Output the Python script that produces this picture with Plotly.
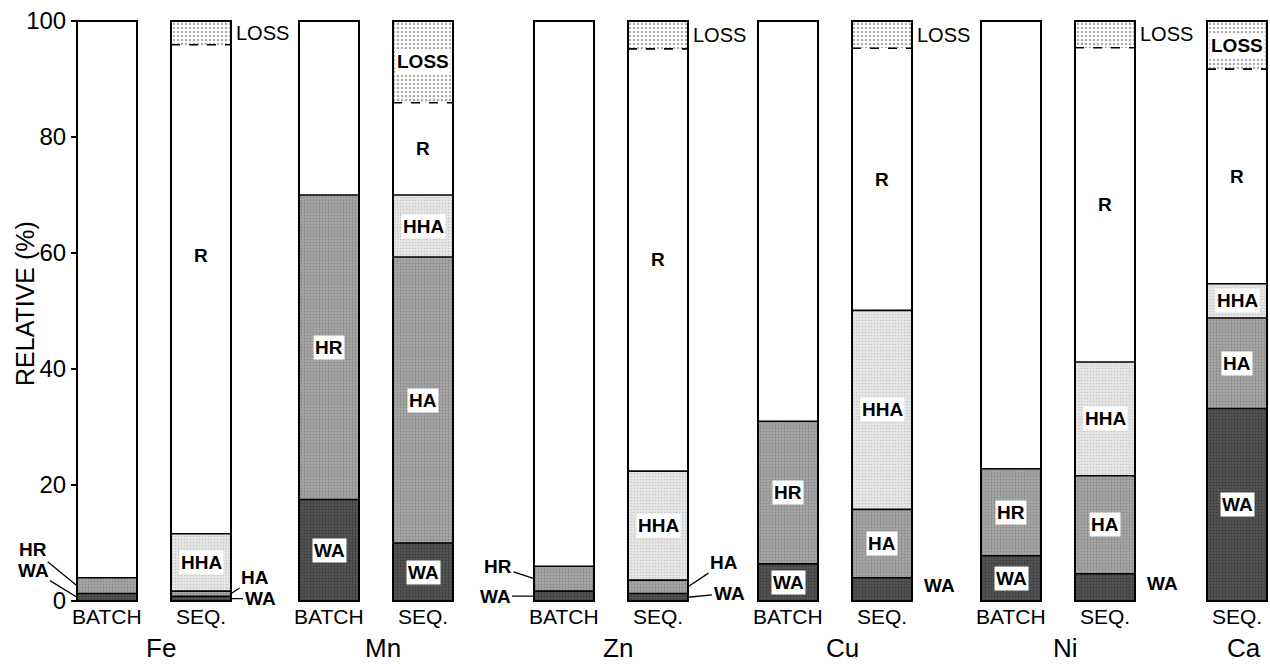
import plotly.graph_objects as go

# ---------------- data ----------------
elements = ["Fe", "Mn", "Zn", "Cu", "Ni", "Ca"]
bar_element = ["Fe", "Fe", "Mn", "Mn", "Zn", "Zn", "Cu", "Cu", "Ni", "Ni", "Ca"]
bar_method = ["BATCH", "SEQ.", "BATCH", "SEQ.", "BATCH", "SEQ.",
              "BATCH", "SEQ.", "BATCH", "SEQ.", "SEQ."]

wa = [1.3, 0.8, 17.5, 10.0, 1.7, 1.3, 6.4, 4.0, 7.8, 4.7, 33.2]
hr = [2.7, None, 52.5, None, 4.3, None, 24.6, None, 15.0, None, None]
ha = [None, 0.9, None, 49.3, None, 2.3, None, 11.8, None, 16.9, 15.6]
hha = [None, 9.9, None, 10.7, None, 18.8, None, 34.3, None, 19.6, 5.9]
r = [96.0, 84.3, 30.0, 15.9, 94.0, 72.8, 69.0, 45.2, 77.2, 54.2, 37.0]
loss = [None, 4.1, None, 14.1, None, 4.8, None, 4.7, None, 4.6, 8.3]

layer_names = ["WA", "HR", "HA", "HHA", "R", "LOSS"]
layer_values = [wa, hr, ha, hha, r, loss]

y_tick_vals = [0, 20, 40, 60, 80, 100]
y_tick_text = ["0", "20", "40", "60", "80", "100"]
y_title = "RELATIVE (%)"

# ---------------- layout constants ----------------
W, H = 1270, 666
MT, MB = 10, 60
PLOT_BOTTOM_PX = H - MB
PLOT_H = H - MT - MB
Y_RANGE = [-0.862, 101.897]
GROUP_X0 = {"Fe": 107, "Mn": 329, "Zn": 564, "Cu": 788, "Ni": 1011, "Ca": 1237}
PAIR_DX = 94
BAR_W = 60
FONT = "Liberation Sans"


def paper_y(px):
    return (PLOT_BOTTOM_PX - px) / PLOT_H


bar_x = []
_seen = {}
for el in bar_element:
    k = _seen.get(el, 0)
    bar_x.append(GROUP_X0[el] + k * PAIR_DX)
    _seen[el] = k + 1

STYLE = {
    "WA": dict(bg="#545454", fg="#222222", size=3, solidity=0.35),
    "HR": dict(bg="#a6a6a6", fg="#6a6a6a", size=3, solidity=0.3),
    "HA": dict(bg="#a6a6a6", fg="#6a6a6a", size=3, solidity=0.3),
    "HHA": dict(bg="#e6e6e6", fg="#a8a8a8", size=3, solidity=0.25),
    "R": dict(bg="#ffffff", fg="#ffffff", size=3, solidity=0.0),
    "LOSS": dict(bg="#ffffff", fg="#555555", size=4, solidity=0.3),
}

fig = go.Figure()
for name, vals in zip(layer_names, layer_values):
    st = STYLE[name]
    marker = dict(color=st["bg"], line=dict(width=0))
    if st["solidity"] > 0:
        marker["pattern"] = dict(shape=".", fgcolor=st["fg"], bgcolor=st["bg"],
                                 size=st["size"], solidity=st["solidity"])
    fig.add_trace(go.Bar(
        x=bar_x, y=[v if v else 0 for v in vals], width=BAR_W,
        name=name, marker=marker, showlegend=False, hoverinfo="skip"))

# ---------------- outlines and segment boundaries ----------------
shapes = []
annotations = []

# outside label offsets (pixels), keyed by (element, method, layer)
LEADER = {
    ("Fe", "BATCH", "HR"): (-44, -36), ("Fe", "BATCH", "WA"): (-44, -27),
    ("Zn", "BATCH", "HR"): (-36, -12), ("Zn", "BATCH", "WA"): (-39, 0),
    ("Fe", "SEQ.", "HA"): (24, -16), ("Fe", "SEQ.", "WA"): (29, 0),
    ("Zn", "SEQ.", "HA"): (36, -24), ("Zn", "SEQ.", "WA"): (41, -4),
}
# label vertical nudges (fraction of segment) where the reference is off-centre
LABEL_Y_FRAC = {("Fe", "SEQ.", "R"): 0.57}

inner_font = dict(family=FONT, size=19, color="black", weight="bold")
outer_font = dict(family=FONT, size=19, color="black", weight="bold")

for i, bx in enumerate(bar_x):
    segs = [(n, v[i]) for n, v in zip(layer_names, layer_values) if v[i]]
    total = sum(v for _, v in segs)
    x0, x1 = bx - BAR_W / 2, bx + BAR_W / 2
    cum = 0.0
    for j, (n, v) in enumerate(segs):
        key = (bar_element[i], bar_method[i], n)
        mid = cum + v * LABEL_Y_FRAC.get(key, 0.5)
        if key in LEADER:
            ax, ay = LEADER[key]
            edge = x0 if ax < 0 else x1
            annotations.append(dict(
                x=edge, y=mid, xref="x", yref="y", text=n, showarrow=True,
                ax=ax, ay=ay, arrowhead=0, arrowwidth=1.3, arrowcolor="black",
                standoff=0, font=outer_font))
        elif n == "LOSS" and v < 5:
            annotations.append(dict(
                x=x1, y=mid, xref="x", yref="y", text=n, showarrow=False,
                xanchor="left", xshift=3,
                font=dict(family=FONT, size=20, color="black")))
        elif v < 5:
            annotations.append(dict(
                x=x1, y=mid, xref="x", yref="y", text=n, showarrow=False,
                xanchor="left", xshift=10, yshift=4, font=outer_font))
        elif not (n == "R" and bar_method[i] == "BATCH"):
            annotations.append(dict(
                x=bx, y=mid, xref="x", yref="y", text=n, showarrow=False,
                font=inner_font, bgcolor=None if n == "R" else "white",
                borderpad=1))
        if j < len(segs) - 1:
            cum += v
            nxt = segs[j + 1][0]
            shapes.append(dict(
                type="line", xref="x", yref="y", x0=x0, x1=x1, y0=cum, y1=cum,
                line=dict(color="black", width=1.6,
                          dash="dash" if nxt == "LOSS" else "solid")))
        else:
            cum += v
    shapes.append(dict(type="rect", xref="x", yref="y", x0=x0, x1=x1,
                       y0=0, y1=total, line=dict(color="black", width=2),
                       fillcolor="rgba(0,0,0,0)"))

# bar type labels under each bar
for bx, m in zip(bar_x, bar_method):
    annotations.append(dict(x=bx, y=paper_y(616), xref="x", yref="paper",
                            text=m, showarrow=False, yanchor="middle",
                            font=dict(family=FONT, size=21, color="black")))

# element labels
for el in elements:
    xs = [bx for bx, e in zip(bar_x, bar_element) if e == el]
    cx = sum(xs) / len(xs) + 7
    annotations.append(dict(x=cx, y=paper_y(648), xref="x", yref="paper",
                            text=el, showarrow=False, yanchor="middle",
                            font=dict(family=FONT, size=26, color="black")))

# y axis title
annotations.append(dict(x=25, y=paper_y(304), xref="x", yref="paper",
                        text=y_title, textangle=-90, showarrow=False,
                        font=dict(family=FONT, size=25, color="black")))

fig.update_layout(
    width=W, height=H,
    margin=dict(l=0, r=0, t=MT, b=MB),
    barmode="stack", bargap=0,
    plot_bgcolor="white", paper_bgcolor="white",
    showlegend=False,
    shapes=shapes, annotations=annotations,
    xaxis=dict(range=[0, W], domain=[0, 1], visible=False, fixedrange=True),
    yaxis=dict(range=Y_RANGE, anchor="free", position=(GROUP_X0["Fe"] - BAR_W / 2 + 1) / W,
               tickvals=y_tick_vals, ticktext=y_tick_text, ticks="outside",
               ticklen=7, tickwidth=1.5, tickcolor="black", showgrid=False,
               zeroline=False, showline=False,
               tickfont=dict(family=FONT, size=24, color="black"), fixedrange=True),
)

fig.write_html(
    "out.html",
    config={"displayModeBar": False},
    post_script="document.body.style.margin='0';document.body.style.padding='0';"
                "document.body.style.overflow='hidden';",
)
